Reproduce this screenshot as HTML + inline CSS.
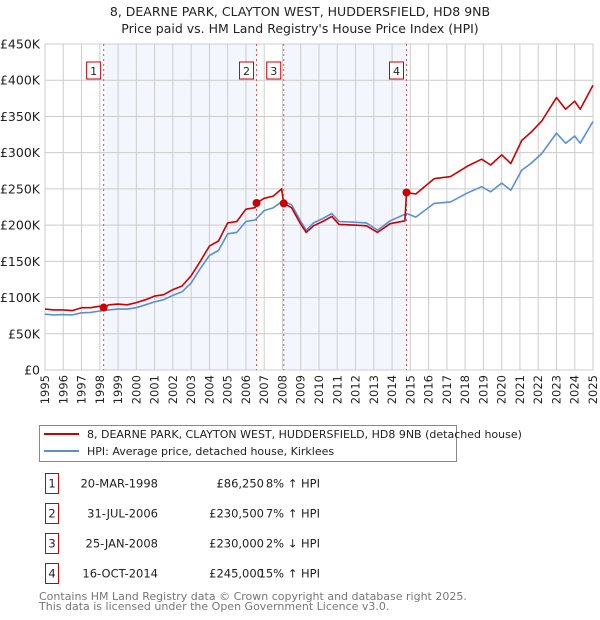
<!DOCTYPE html>
<html><head><meta charset="utf-8">
<style>
body{margin:0;background:#fff;font-family:"DejaVu Sans","Liberation Sans",sans-serif;}
#wrap{position:relative;width:600px;height:620px;overflow:hidden;}
svg text{font-family:"DejaVu Sans","Liberation Sans",sans-serif;}
</style></head><body>
<div id="wrap">
<svg id="chart" width="600" height="620">
<text x="300" y="16" text-anchor="middle" font-size="12.5" fill="#222">8, DEARNE PARK, CLAYTON WEST, HUDDERSFIELD, HD8 9NB</text>
<text x="300" y="33" text-anchor="middle" font-size="12.5" fill="#222">Price paid vs. HM Land Registry's House Price Index (HPI)</text>
<g id="plot"></g>
<g>
<rect x="39.5" y="425.5" width="417" height="36" fill="#fff" stroke="#888"/>
<line x1="44" y1="434" x2="79" y2="434" stroke="#cc0000" stroke-width="2"/>
<text x="87" y="438" font-size="11" fill="#222">8, DEARNE PARK, CLAYTON WEST, HUDDERSFIELD, HD8 9NB (detached house)</text>
<line x1="44" y1="451" x2="79" y2="451" stroke="#5b8fd4" stroke-width="2"/>
<text x="87" y="455" font-size="11" fill="#222">HPI: Average price, detached house, Kirklees</text>
</g>
<g id="table" font-size="11.5" fill="#222"></g>
<text x="39" y="600" font-size="11" fill="#777">Contains HM Land Registry data © Crown copyright and database right 2025.</text>
<text x="39" y="610" font-size="11" fill="#777">This data is licensed under the Open Government Licence v3.0.</text>
</svg>
</div>
<script>
const hpiYears=[1995,1995.5,1996,1996.5,1997,1997.5,1998,1998.5,1999,1999.5,2000,2000.5,2001,2001.5,2002,2002.5,2003,2003.5,2004,2004.5,2005,2005.5,2006,2006.5,2007,2007.5,2008,2008.5,2008.96,2009.3,2009.7,2010.2,2010.7,2011.1,2011.9,2012.6,2013.2,2013.9,2014.8,2015.3,2016.3,2017.2,2018.1,2018.9,2019.4,2020,2020.5,2021.1,2021.6,2022.2,2023,2023.5,2024,2024.3,2025];
const hpiValues=[77000,76000,76500,76000,79000,79500,81500,83000,84000,84000,86000,90000,94000,97000,103000,108000,120000,140000,158000,165000,188000,190000,205000,207000,220000,224000,233000,228000,207000,193000,203000,209000,216000,205000,204000,203000,193000,206000,216000,211000,230000,232000,244000,253000,246000,258000,248000,276000,285000,299000,327000,313000,323000,313000,343000];
const redYears=[1995,1995.5,1996,1996.5,1997,1997.5,1998,1998.21,1998.5,1999,1999.5,2000,2000.5,2001,2001.5,2002,2002.5,2003,2003.5,2004,2004.5,2005,2005.5,2006,2006.5,2006.58,2007,2007.5,2007.95,2008.07,2008.5,2008.96,2009.3,2009.7,2010.2,2010.7,2011.1,2011.9,2012.6,2013.2,2013.9,2014.7,2014.79,2015.3,2016.3,2017.2,2018.1,2018.9,2019.4,2020,2020.5,2021.1,2021.6,2022.2,2023,2023.5,2024,2024.3,2025];
const redValues=[84000,83000,83000,82000,86000,86000,88000,86250,90000,91000,90000,93000,97000,102000,104000,111000,116000,130000,150000,171000,178000,203000,205000,222000,224000,230500,237000,240000,250000,230000,224000,203000,190000,199000,205000,212000,201000,200000,199000,190000,202000,206000,245000,243000,264000,267000,281000,291000,283000,297000,285000,317000,328000,344000,376000,360000,371000,360000,393000];
const saleYears=[1998.21,2006.58,2008.07,2014.79];
const salePrices=[86250,230500,230000,245000];
const saleDates=["20-MAR-1998","31-JUL-2006","25-JAN-2008","16-OCT-2014"];
const salePriceLabels=["£86,250","£230,500","£230,000","£245,000"];
const saleHpiLabels=["8% ↑ HPI","7% ↑ HPI","2% ↓ HPI","15% ↑ HPI"];
const yTicks=[0,50000,100000,150000,200000,250000,300000,350000,400000,450000];
const yTickLabels=["£0","£50K","£100K","£150K","£200K","£250K","£300K","£350K","£400K","£450K"];
const xTicks=[1995,1996,1997,1998,1999,2000,2001,2002,2003,2004,2005,2006,2007,2008,2009,2010,2011,2012,2013,2014,2015,2016,2017,2018,2019,2020,2021,2022,2023,2024,2025];

const NS="http://www.w3.org/2000/svg";
const X0=45,X1=593,Y0=370,Y1=44;
const xs=y=>X0+(y-1995)/30*(X1-X0);
const ys=v=>Y0-v/450000*(Y0-Y1);
const plot=document.getElementById('plot');
function mk(tag,attrs,parent){const e=document.createElementNS(NS,tag);for(const k in attrs)e.setAttribute(k,attrs[k]);(parent||plot).appendChild(e);return e;}

const bg=mk('rect',{x:X0,y:Y1,width:X1-X0,height:Y0-Y1,fill:'#fff'});


[[0,1],[2,3]].forEach(p=>{
  const r=mk('rect',{x:xs(saleYears[p[0]]),y:Y1,width:xs(saleYears[p[1]])-xs(saleYears[p[0]]),height:Y0-Y1,fill:'#f3f6fd'});
  
  
});
xTicks.forEach((t,i)=>{
  const l=mk('line',{x1:xs(t),x2:xs(t),y1:Y1,y2:Y0,stroke:'#cccccc','stroke-width':1});
  
  
  const tx=mk('text',{x:0,y:0,'font-size':11.5,fill:'#222','text-anchor':'end',transform:`translate(${xs(t)+4},${Y0+5}) rotate(-90)`});
  tx.textContent=t;
  
  
});
yTicks.forEach((t,i)=>{
  const l=mk('line',{x1:X0,x2:X1,y1:ys(t),y2:ys(t),stroke:'#cccccc','stroke-width':1});
  
  
  const tx=mk('text',{x:40,y:ys(t)+4.5,'font-size':12.5,fill:'#222','text-anchor':'end'});
  tx.textContent=yTickLabels[i];
  
  
});
const border=mk('rect',{x:X0,y:Y1,width:X1-X0,height:Y0-Y1,fill:'none',stroke:'#cccccc'});



saleYears.forEach((s,i)=>{
  const l=mk('line',{x1:xs(s),x2:xs(s),y1:Y1,y2:Y0,stroke:'#e05050','stroke-width':1,'stroke-dasharray':'2,3'});
  
  
  const bx=mk('rect',{x:xs(s)-17,y:62,width:14,height:17,fill:'#fff',stroke:'#cc0000'});
  
  
  const t=mk('text',{x:xs(s)-10,y:75,'font-size':11,fill:'#222','text-anchor':'middle'});
  t.textContent=i+1;
  
  
});
function path(xa,va,color,name){
  const d=xa.map((x,i)=>(i?'L':'M')+xs(x).toFixed(1)+','+ys(va[i]).toFixed(1)).join(' ');
  const p=mk('path',{d:d,fill:'none',stroke:color,'stroke-width':1.6,'stroke-linejoin':'round'});
  
  
}
path(hpiYears,hpiValues,'#5b8fd4','hpi-line');
path(redYears,redValues,'#cc0000','price-paid-line');
saleYears.forEach((s,i)=>{
  const c=mk('circle',{cx:xs(s),cy:ys(salePrices[i]),r:4,fill:'#cc0000'});
  
  
});
const tbl=document.getElementById('table');
saleDates.forEach((d,i)=>{
  const y=483+i*30;
  const bx=mk('rect',{x:45.5,y:y-9.5,width:13,height:20,fill:'#fff',stroke:'#cc0000'},tbl);
  
  
  const cells=[[52,i+1,'middle','row-number'],[158,d,'end','sale-date'],[264,salePriceLabels[i],'end','sale-price'],[320,saleHpiLabels[i],'end','hpi-diff']];
  cells.forEach(c=>{
    const t=mk('text',{x:c[0],y:y+4.5,'text-anchor':c[2],'font-size':11.5,fill:'#222'},tbl);
    t.textContent=c[1];
    
    
  });
});
</script>
</body></html>
